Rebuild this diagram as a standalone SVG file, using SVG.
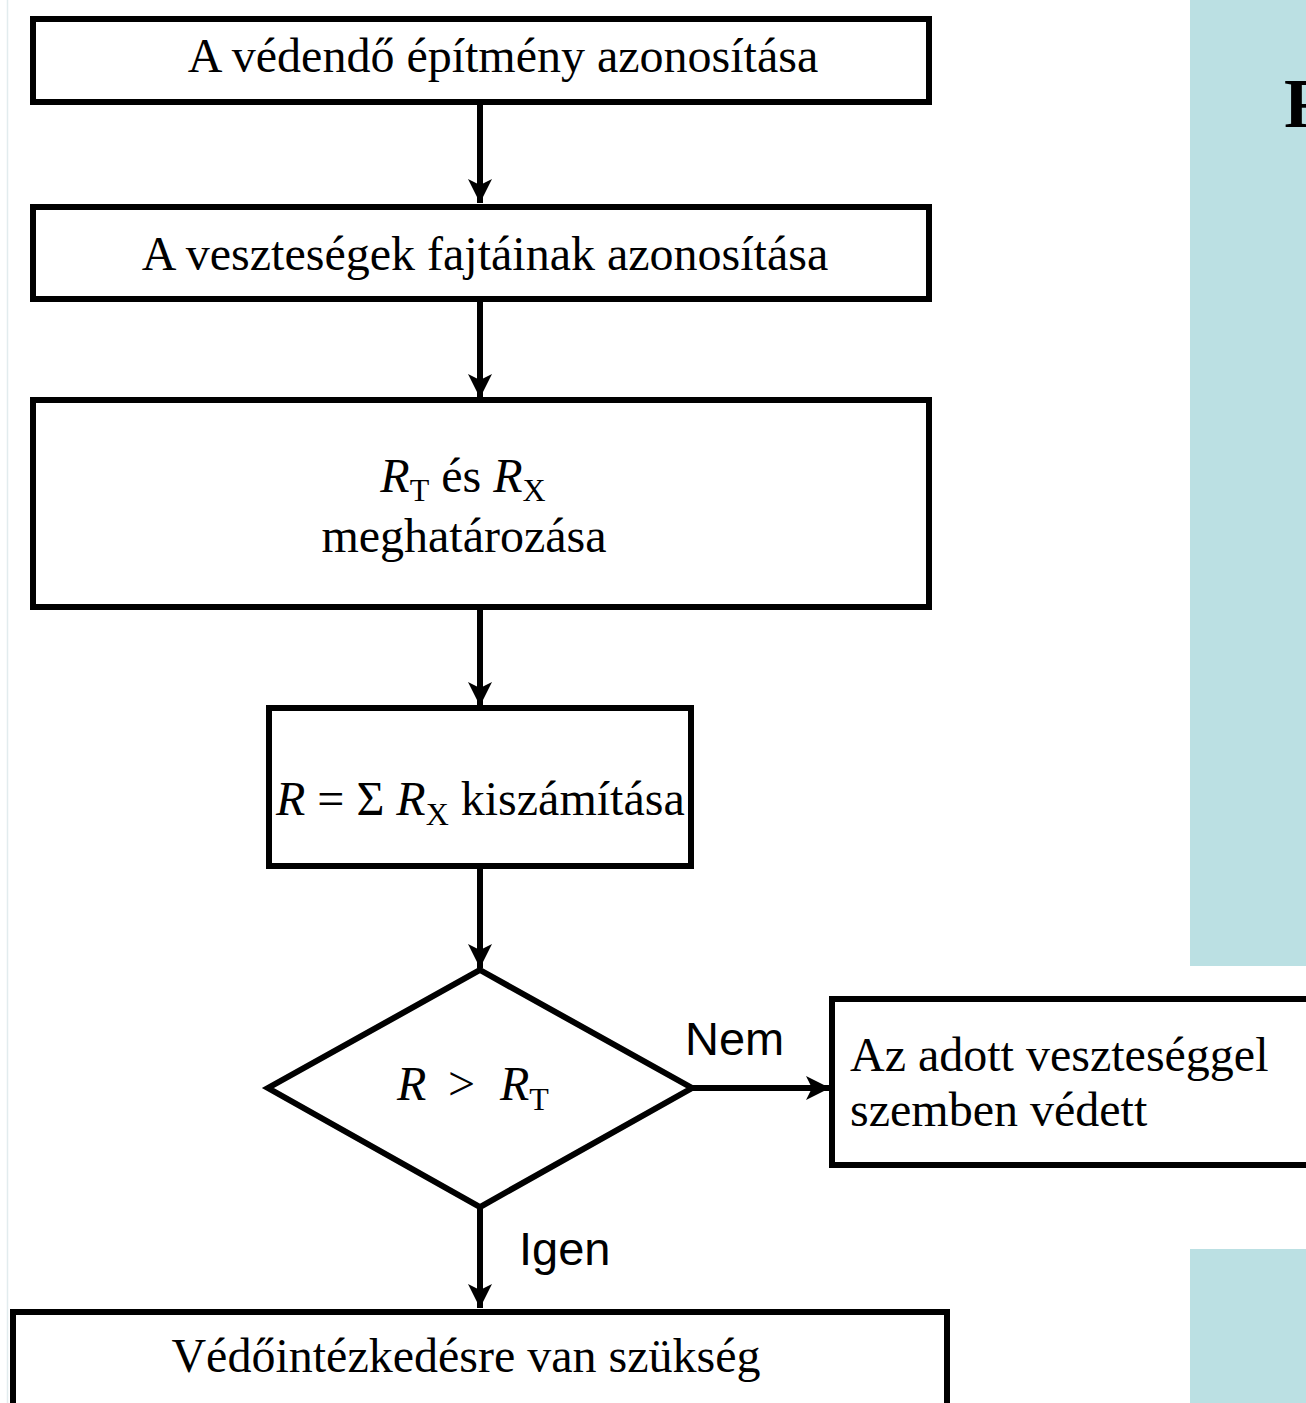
<svg xmlns="http://www.w3.org/2000/svg" width="1306" height="1403" viewBox="0 0 1306 1403">
<style>
.box{fill:#fff;stroke:#000;stroke-width:6}
.t{font-family:"Liberation Serif","Times New Roman",serif;font-size:48px;fill:#000}
.s{font-family:"Liberation Sans",Arial,sans-serif;font-size:47px;fill:#000}
.i{font-style:italic}
.sub{font-size:32px}
.c{stroke:#000;stroke-width:6;fill:none}
</style>
<defs>
<marker id="ah" markerUnits="userSpaceOnUse" markerWidth="26" markerHeight="26" viewBox="0 0 26 26" refX="24" refY="13" orient="auto">
<path d="M0,1 L24,13 L0,25 L6,13 Z" fill="#000"/>
</marker>
</defs>
<rect x="0" y="0" width="1306" height="1403" fill="#fff"/>
<line x1="7.5" y1="0" x2="7.5" y2="1403" stroke="#e2ecee" stroke-width="1.5"/>
<g id="panel-top">
<rect x="1190" y="0" width="116" height="966" fill="#bbe0e3"/>
<text x="1284" y="127" font-family="Liberation Serif,serif" font-weight="bold" font-size="70">F</text>
</g>
<g id="panel-bottom"><rect x="1190" y="1249" width="116" height="154" fill="#bbe0e3"/></g>
<g id="connectors">
<line class="c" x1="480" y1="104" x2="480" y2="203" marker-end="url(#ah)"/>
<line class="c" x1="480" y1="302" x2="480" y2="398" marker-end="url(#ah)"/>
<line class="c" x1="480" y1="610" x2="480" y2="706" marker-end="url(#ah)"/>
<line class="c" x1="480" y1="866" x2="480" y2="968" marker-end="url(#ah)"/>
<line class="c" x1="480" y1="1207" x2="480" y2="1308" marker-end="url(#ah)"/>
<line class="c" x1="692" y1="1088" x2="830" y2="1088" marker-end="url(#ah)"/>
<text class="s" x="685" y="1055">Nem</text>
<text class="s" x="519" y="1265">Igen</text>
</g>
<g id="n1">
<rect class="box" x="33" y="19" width="896" height="83"/>
<text class="t" x="503" y="72" text-anchor="middle">A védendő építmény azonosítása</text>
</g>
<g id="n2">
<rect class="box" x="33" y="207" width="896" height="92"/>
<text class="t" x="485" y="270" text-anchor="middle">A veszteségek fajtáinak azonosítása</text>
</g>
<g id="n3">
<rect class="box" x="33" y="400" width="896" height="207"/>
<text class="t" x="463" y="492" text-anchor="middle"><tspan class="i">R</tspan><tspan class="sub" dy="9">T</tspan><tspan dy="-9"> és </tspan><tspan class="i">R</tspan><tspan class="sub" dy="9">X</tspan></text>
<text class="t" x="464" y="552" text-anchor="middle">meghatározása</text>
</g>
<g id="n4">
<rect class="box" x="269" y="708" width="422" height="158"/>
<text class="t" x="276" y="815"><tspan class="i">R</tspan> = Σ <tspan class="i">R</tspan><tspan class="sub" dy="10">X</tspan><tspan dy="-10"> kiszámítása</tspan></text>
</g>
<g id="n5">
<polygon class="box" points="480,970 692,1088 480,1207 268,1088"/>
<text class="t" y="1100"><tspan class="i" x="397">R</tspan><tspan x="448">&gt;</tspan><tspan class="i" x="500">R</tspan><tspan class="sub" dy="10">T</tspan></text>
</g>
<g id="n6">
<rect class="box" x="832" y="999" width="490" height="166"/>
<text class="t" x="850" y="1071">Az adott veszteséggel</text>
<text class="t" x="850" y="1126">szemben védett</text>
</g>
<g id="n7">
<rect class="box" x="13" y="1312" width="934" height="110"/>
<text class="t" x="466" y="1372" text-anchor="middle">Védőintézkedésre van szükség</text>
</g>
</svg>
